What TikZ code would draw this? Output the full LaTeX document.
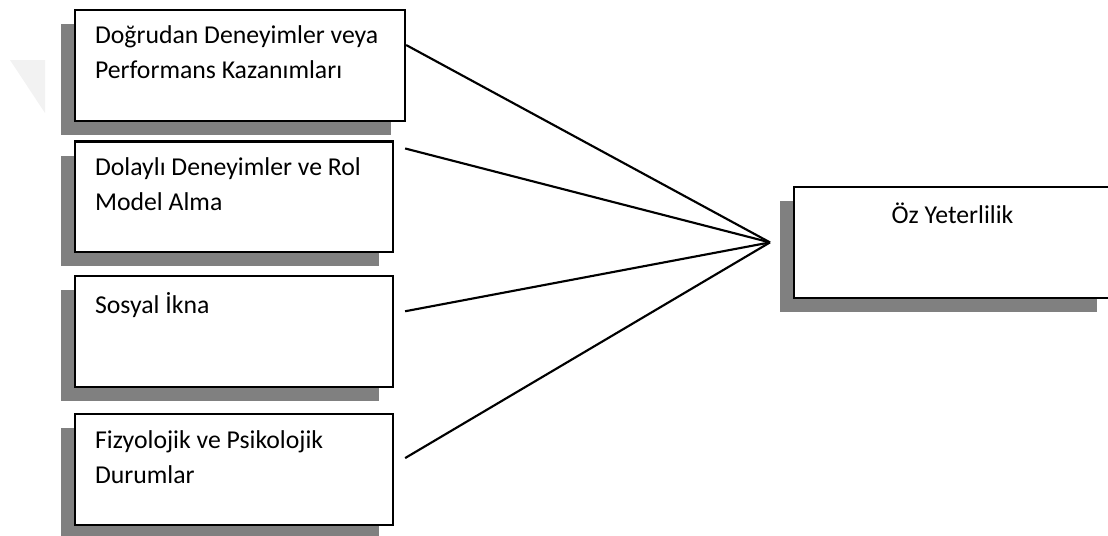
\documentclass[tikz,border=0pt]{standalone}
\usepackage{fontspec}
\setmainfont{Carlito}
\usetikzlibrary{positioning,shadows}
\definecolor{shadowgray}{RGB}{128,128,128}
\tikzset{
  factor/.style = {draw, line width=1.6pt, fill=white, anchor=north west,
                   inner xsep=15pt, inner ysep=12pt,
                   general shadow={fill=shadowgray, shadow xshift=-10.5pt, shadow yshift=-10.5pt}},
  link/.style   = {line width=1.6pt}
}
\newcommand{\factortext}[2]{\parbox[c][59pt][t]{#1}{\raggedright #2}}

\begin{document}
\begin{tikzpicture}[font=\fontsize{19.3}{26.25}\selectfont]
    \useasboundingbox (0,0) rectangle (831pt,-402pt);
    \fill[black!5] (7.5pt,-45pt) -- (33.75pt,-45pt) -- (33.75pt,-84.75pt) -- cycle;
    % sources on the left
    \node[factor] (direct) at (55.5pt,-6.75pt)
        {\factortext{217.5pt}{Doğrudan Deneyimler veya\\Performans Kazanımları}};
    \node[factor] (vicar) [below=14pt of direct.south west, anchor=north west]
        {\factortext{208.5pt}{Dolaylı Deneyimler ve Rol\\Model Alma}};
    \node[factor] (social) [below=16.5pt of vicar.south west, anchor=north west]
        {\factortext{208.5pt}{Sosyal İkna}};
    \node[factor] (state) [below=18.75pt of social.south west, anchor=north west]
        {\factortext{208.5pt}{Fizyolojik ve Psikolojik\\Durumlar}};
    % result on the right
    \node[factor] (self) at (594.75pt,-139.5pt)
        {\parbox[c][59pt][t]{207.75pt}{\centering Öz Yeterlilik}};
    \coordinate[left=17.25pt of self.west] (hub);
    \draw[link] ([yshift=-27pt]direct.north east) -- (hub);
    \draw[link] ([xshift=8.25pt,yshift=-6pt]vicar.north east) -- (hub);
    \draw[link] ([xshift=8.25pt,yshift=-27pt]social.north east) -- (hub);
    \draw[link] ([xshift=8.25pt,yshift=-33.75pt]state.north east) -- (hub);
\end{tikzpicture}
\end{document}
